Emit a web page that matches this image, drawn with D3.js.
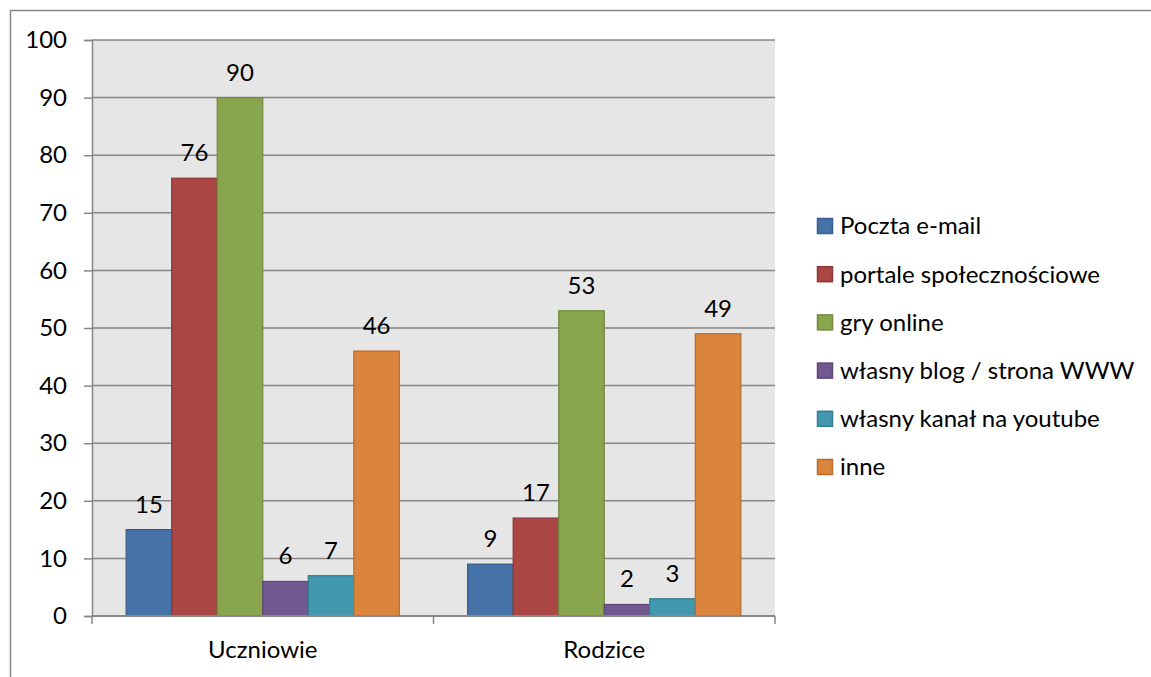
<!DOCTYPE html>
<html><head><meta charset="utf-8">
<script src="https://cdn.jsdelivr.net/npm/d3@7"></script>
<style>body{margin:0;background:#fff}svg{display:block}text{font-family:Lato,"Open Sans",sans-serif;fill:#000}</style>
</head><body>
<svg id="c" width="1151" height="677"></svg>
<script>
const categories = ["Uczniowie", "Rodzice"];
const seriesNames = ["Poczta e-mail", "portale społecznościowe", "gry online", "własny blog / strona WWW", "własny kanał na youtube", "inne"];
const uczniowie = [15, 76, 90, 6, 7, 46];
const rodzice = [9, 17, 53, 2, 3, 49];
const yTicks = [0, 10, 20, 30, 40, 50, 60, 70, 80, 90, 100];
const fills = ["#4572A7", "#AA4643", "#89A54E", "#71588F", "#4198AF", "#DB843D"];
const strokes = ["#385D8A", "#8C3836", "#71893F", "#5C4776", "#357D91", "#B66D31"];

const values = [uczniowie, rodzice];
const svg = d3.select("#c");
const L = 92, R = 775, T = 40, B = 616;
const FS = 24;

// outer frame
svg.append("path").attr("d", "M10.5,677 V10.5 H1151").attr("fill", "none").attr("stroke", "#868686").attr("stroke-width", 1.5);

const x0 = d3.scaleBand().domain(categories).range([L, R]);
const x1 = d3.scaleBand().domain(d3.range(seriesNames.length)).range([0, x0.bandwidth()]).paddingInner(0).paddingOuter(0.75);
const y = d3.scaleLinear().domain([0, 100]).range([B, T]);

svg.append("rect").attr("x", L).attr("y", T).attr("width", R - L).attr("height", B - T).attr("fill", "#E6E6E6");

// gridlines
svg.append("g").selectAll("line").data(yTicks.filter(d => d > 0)).join("line")
  .attr("x1", L).attr("x2", R).attr("y1", d => y(d)).attr("y2", d => y(d))
  .attr("stroke", "#878787").attr("stroke-width", 1.5);

// y axis
const yAxis = svg.append("g").attr("transform", `translate(${L},0)`)
  .call(d3.axisLeft(y).tickValues(yTicks).tickSize(8).tickPadding(17));
yAxis.select(".domain").attr("stroke", "#878787").attr("stroke-width", 1.5);
yAxis.selectAll(".tick line").attr("stroke", "#878787").attr("stroke-width", 1.5);
yAxis.selectAll("text").attr("font-size", FS).attr("font-family", "Lato").attr("fill", "#000");
yAxis.attr("font-size", null);

// bars
const groups = svg.append("g").selectAll("g").data(categories).join("g")
  .attr("transform", d => `translate(${x0(d)},0)`);
groups.selectAll("rect").data((c, ci) => values[ci].map((v, i) => ({v, i}))).join("rect")
  .attr("x", d => x1(d.i)).attr("width", x1.bandwidth())
  .attr("y", d => y(d.v)).attr("height", d => y(0) - y(d.v))
  .attr("fill", d => fills[d.i]).attr("stroke", d => strokes[d.i]).attr("stroke-width", 1.2);
groups.selectAll("text").data((c, ci) => values[ci].map((v, i) => ({v, i}))).join("text")
  .attr("x", d => x1(d.i) + x1.bandwidth() / 2).attr("y", d => y(d.v) - 17)
  .attr("text-anchor", "middle").attr("font-size", FS).text(d => d.v);

// x axis
const xAxisG = svg.append("g").attr("transform", `translate(0,${B})`);
xAxisG.append("line").attr("x1", L).attr("x2", R).attr("stroke", "#878787").attr("stroke-width", 2);
xAxisG.selectAll(".tk").data([L, ...categories.map(c => x0(c) + x0.bandwidth())]).join("line").attr("class", "tk")
  .attr("x1", d => d).attr("x2", d => d).attr("y1", 0).attr("y2", 8).attr("stroke", "#878787").attr("stroke-width", 1.5);
xAxisG.selectAll("text").data(categories).join("text")
  .attr("x", c => x0(c) + x0.bandwidth() / 2).attr("y", 42).attr("text-anchor", "middle").attr("font-size", FS).text(c => c);

// legend
const lg = svg.append("g").selectAll("g").data(seriesNames).join("g")
  .attr("transform", (d, i) => `translate(817,${226 + i * 48.2})`);
lg.append("rect").attr("x", 0.5).attr("y", -7.5).attr("width", 15).attr("height", 15)
  .attr("fill", (d, i) => fills[i]).attr("stroke", (d, i) => strokes[i]).attr("stroke-width", 1.5);
lg.append("text").attr("x", 23).attr("dy", "0.35em").attr("font-size", FS).text(d => d);
</script>
</body></html>
